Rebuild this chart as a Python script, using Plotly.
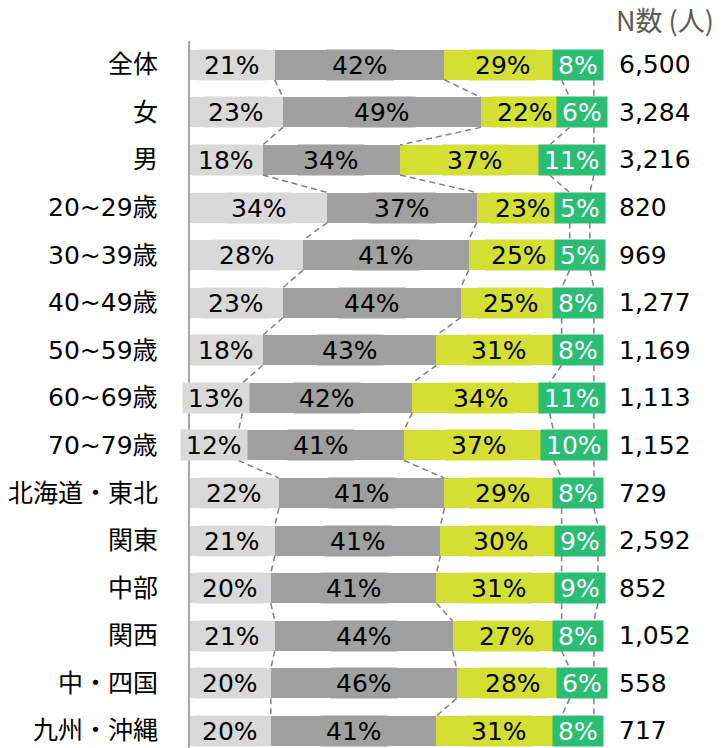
import plotly.graph_objects as go

# Row categories (top to bottom) and respondent counts
groups = ["全体", "女", "男", "20~29歳", "30~39歳", "40~49歳", "50~59歳",
          "60~69歳", "70~79歳", "北海道・東北", "関東", "中部", "関西",
          "中・四国", "九州・沖縄"]
n_counts = ["6,500", "3,284", "3,216", "820", "969", "1,277", "1,169",
            "1,113", "1,152", "729", "2,592", "852", "1,052", "558", "717"]

# Share of each answer (%), one list per stacked segment
seg1 = [21, 23, 18, 34, 28, 23, 18, 13, 12, 22, 21, 20, 21, 20, 20]
seg2 = [42, 49, 34, 37, 41, 44, 43, 42, 41, 41, 41, 41, 44, 46, 41]
seg3 = [29, 22, 37, 23, 25, 25, 31, 34, 37, 29, 30, 31, 27, 28, 31]
seg4 = [8, 6, 11, 5, 5, 8, 8, 11, 10, 8, 9, 9, 8, 6, 8]

series = [seg1, seg2, seg3, seg4]
colors = ["#d9d9d9", "#a0a0a0", "#d4df34", "#2bbd74"]
text_colors = ["#000000", "#000000", "#000000", "#ffffff"]

rows = list(range(len(groups)))
BAR_W = 0.63
LABEL_FONT = "DejaVu Sans, Noto Sans CJK JP, sans-serif"

fig = go.Figure()

# Stacked horizontal bars
for vals, col in zip(series, colors):
    fig.add_trace(go.Bar(
        x=vals, y=rows, orientation="h", width=BAR_W,
        marker=dict(color=col, line=dict(width=0)),
        hoverinfo="skip", showlegend=False,
    ))

# Cumulative boundaries for each segment
cums = []
running = [0] * len(rows)
for vals in series:
    running = [r + v for r, v in zip(running, vals)]
    cums.append(list(running))

# Dashed series lines between consecutive bars
lx, ly = [], []
half = BAR_W / 2
for cum in cums:
    for i in range(len(rows) - 1):
        lx += [cum[i], cum[i + 1], None]
        ly += [i + half, i + 1 - half, None]
fig.add_trace(go.Scatter(
    x=lx, y=ly, mode="lines",
    line=dict(color="#808080", width=1.5, dash="6px,4px"),
    hoverinfo="skip", showlegend=False,
))

annotations = []
# Percentage labels on filled boxes centred on each segment
for k, vals in enumerate(series):
    starts = [0] * len(rows) if k == 0 else cums[k - 1]
    for i in rows:
        annotations.append(dict(
            x=starts[i] + vals[i] / 2, y=i, xref="x", yref="y",
            text=f"{vals[i]}%", showarrow=False,
            font=dict(family=LABEL_FONT, size=25, color=text_colors[k]),
            bgcolor=colors[k], borderpad=5, height=20,
            xanchor="center", yanchor="middle",
        ))

# Category labels on the left
for i, g in enumerate(groups):
    annotations.append(dict(
        x=0, y=i, xref="paper", yref="y", xshift=-30,
        text=g, showarrow=False, xanchor="right", yanchor="middle",
        font=dict(family=LABEL_FONT, size=25, color="#000000"),
    ))

# Sample sizes on the right
for i, n in enumerate(n_counts):
    annotations.append(dict(
        x=1, y=i, xref="paper", yref="y", xshift=15,
        text=n, showarrow=False, xanchor="left", yanchor="middle",
        font=dict(family=LABEL_FONT, size=25, color="#000000"),
    ))

# Column header for sample sizes
annotations.append(dict(
    x=1, y=1, xref="paper", yref="paper", xshift=12, yshift=22,
    text="N数 (人)", showarrow=False, xanchor="left", yanchor="middle",
    font=dict(family="Noto Sans CJK JP, sans-serif", size=27, color="#595959"),
))

fig.update_layout(
    width=723, height=748,
    margin=dict(l=190, r=121, t=41, b=0),
    barmode="stack",
    plot_bgcolor="#ffffff", paper_bgcolor="#ffffff",
    annotations=annotations,
    xaxis=dict(range=[0, 102], visible=False, fixedrange=True),
    yaxis=dict(range=[14.358, -0.5], showticklabels=False, ticks="",
               showgrid=False, zeroline=False, showline=True,
               linecolor="#a6a6a6", linewidth=2, fixedrange=True),
)

fig.write_html("out.html")
